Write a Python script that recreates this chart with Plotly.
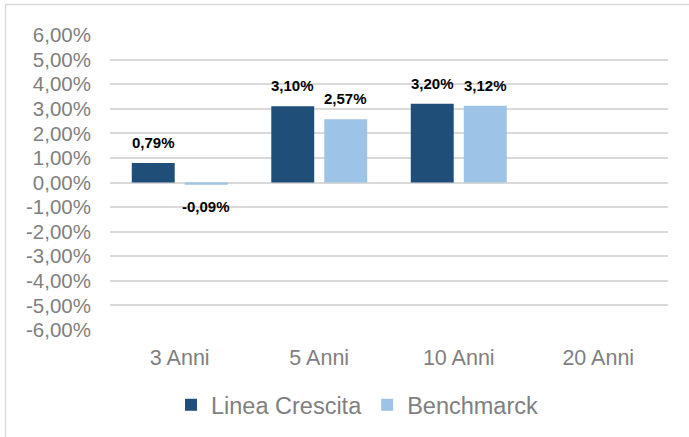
import plotly.graph_objects as go

categories = ["3 Anni", "5 Anni", "10 Anni", "20 Anni"]
linea_crescita = [0.79, 3.10, 3.20, None]
benchmarck = [-0.09, 2.57, 3.12, None]
series_names = ["Linea Crescita", "Benchmarck"]
tick_vals = [-6, -5, -4, -3, -2, -1, 0, 1, 2, 3, 4, 5, 6]

DARK = "#1F4E79"
LIGHT = "#9DC3E6"
GRID = "#D9D9D9"
GRAYTXT = "#7F7F7F"
FONT = "Liberation Sans, Arial, sans-serif"


def fmt(v):
    if v is None:
        return ""
    return f"{v:.2f}".replace(".", ",") + "%"


tick_text = [fmt(v) for v in tick_vals]

W, H = 689, 437
L, R, T, B = 110, 21, 35, 107
pw, ph = W - L - R, H - T - B
BARGAP, GROUPGAP = 0.24, 0.19
slot_px = (1 - BARGAP) * (pw / len(categories)) / 2

fig = go.Figure()
annotations = []
series = [(series_names[0], linea_crescita, DARK), (series_names[1], benchmarck, LIGHT)]
for i, (name, vals, col) in enumerate(series):
    fig.add_trace(go.Bar(
        x=categories, y=vals, name=name, marker=dict(color=col, line=dict(width=0)),
        hoverinfo="skip",
    ))
    for c, v in zip(categories, vals):
        if v is None:
            continue
        annotations.append(dict(
            x=c, y=v, xref="x", yref="y", text=fmt(v), showarrow=False,
            xshift=(i - 0.5) * slot_px, yshift=20.5 if v >= 0 else -21.5,
            xanchor="center", yanchor="middle",
            font=dict(family=FONT, size=15, color="#000000", weight="bold"),
        ))

fig.update_layout(
    width=W, height=H,
    margin=dict(l=L, r=R, t=T, b=B, pad=0, autoexpand=False),
    paper_bgcolor="white", plot_bgcolor="white",
    barmode="group", bargap=BARGAP, bargroupgap=GROUPGAP,
    font=dict(family=FONT, color=GRAYTXT),
    showlegend=True,
    legend=dict(orientation="h", x=(357 - L) / pw, xanchor="center",
                y=(H - B - 405) / ph, yanchor="middle",
                font=dict(size=23.5, color=GRAYTXT, family=FONT),
                itemwidth=30, traceorder="normal"),
    xaxis=dict(showgrid=False, showline=False, ticks="", automargin=False,
               tickfont=dict(size=21.5, color=GRAYTXT), ticklabelstandoff=12),
    yaxis=dict(range=[-6, 6], tickvals=tick_vals, ticktext=tick_text, automargin=False,
               showgrid=True, gridcolor=GRID, gridwidth=2, zeroline=False, showline=False,
               ticks="", tickfont=dict(size=20.5, color=GRAYTXT), ticklabelstandoff=18),
    annotations=annotations,
    shapes=[dict(type="rect", xref="paper", yref="paper",
                 x0=(5.5 - L) / pw, x1=(W + 20 - L) / pw,
                 y0=(H - B - 4.5) / ph, y1=(H - B - H - 20) / ph,
                 line=dict(color=GRID, width=1.5), fillcolor="rgba(0,0,0,0)", layer="below")],
)

fig.write_html("out.html", config={"displayModeBar": False},
               post_script="document.body.style.margin='0px';document.body.style.overflow='hidden';")
